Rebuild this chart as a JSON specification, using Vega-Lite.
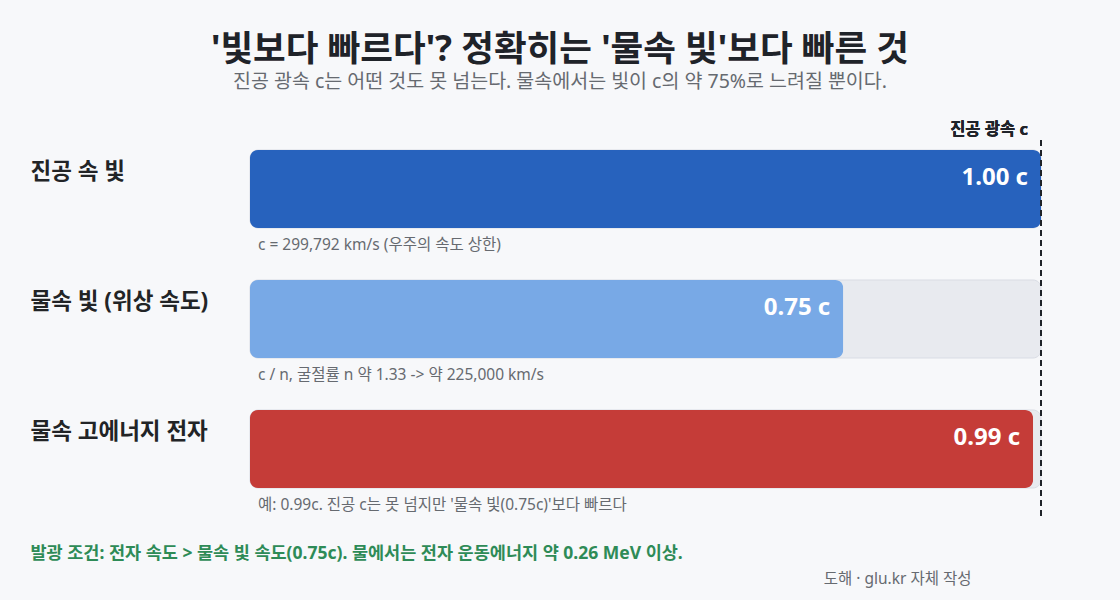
{
  "$schema": "https://vega.github.io/schema/vega-lite/v6.json",
  "width": 1120,
  "height": 490,
  "autosize": {"type": "none"},
  "padding": {"left": 0, "right": 0, "top": 110, "bottom": 0},
  "background": "#f7f8fa",
  "config": {"view": {"stroke": null}, "font": "'Noto Sans', 'Noto Sans CJK KR', sans-serif"},
  "title": {
    "text": "'빛보다 빠르다'? 정확히는 '물속 빛'보다 빠른 것",
    "subtitle": "진공 광속 c는 어떤 것도 못 넘는다. 물속에서는 빛이 c의 약 75%로 느려질 뿐이다.",
    "anchor": "middle",
    "frame": "group",
    "fontSize": 35.5,
    "fontWeight": "bold",
    "color": "#1f2329",
    "subtitleFontSize": 19.5,
    "subtitleColor": "#666a70",
    "subtitlePadding": 4,
    "offset": 19
  },
  "data": {
    "values": [
      {"label": "진공 속 빛", "value": 1.0, "valueLabel": "1.00 c", "caption": "c = 299,792 km/s (우주의 속도 상한)"},
      {"label": "물속 빛 (위상 속도)", "value": 0.75, "valueLabel": "0.75 c", "caption": "c / n, 굴절률 n 약 1.33 -> 약 225,000 km/s"},
      {"label": "물속 고에너지 전자", "value": 0.99, "valueLabel": "0.99 c", "caption": "예: 0.99c. 진공 c는 못 넘지만 '물속 빛(0.75c)'보다 빠르다"}
    ]
  },
  "resolve": {"axis": {"y": "independent", "x": "independent"}},
  "layer": [
    {
      "mark": {"type": "bar", "color": "#e8eaef", "stroke": "#d9dce4", "strokeWidth": 1, "cornerRadius": 8},
      "encoding": {
        "x": {"datum": 1, "type": "quantitative", "scale": {"domain": [0, 1], "range": [250, 1041], "nice": false, "zero": false},
          "axis": {"labels": false, "ticks": false, "domain": false, "grid": false,
            "title": "발광 조건: 전자 속도 > 물속 빛 속도(0.75c). 물에서는 전자 운동에너지 약 0.26 MeV 이상.",
            "titleX": 30, "titleY": -47, "titleAlign": "left", "titleAnchor": "start", "titleBaseline": "middle",
            "titleFontSize": 17.5, "titleFontWeight": "bold", "titleColor": "#2e8b57"}},
        "y": {"field": "label", "type": "nominal", "sort": null,
          "scale": {"range": [14, 404], "paddingInner": 0.4, "paddingOuter": 0.2},
          "axis": {"title": null, "ticks": false, "domain": false, "orient": "left", "offset": -30,
            "labelAlign": "left", "labelPadding": 0, "labelOffset": -17, "labelBaseline": "middle",
            "labelFontSize": 22.5, "labelFontWeight": "bold", "labelColor": "#222426", "labelLimit": 300}}
      }
    },
    {
      "mark": {"type": "bar", "cornerRadius": 8},
      "encoding": {
        "x": {"field": "value", "type": "quantitative", "axis": null},
        "y": {"field": "label", "type": "nominal", "sort": null, "axis": null},
        "color": {"field": "label", "type": "nominal", "legend": null,
          "scale": {"domain": ["진공 속 빛", "물속 빛 (위상 속도)", "물속 고에너지 전자"], "range": ["#2762bd", "#78a9e6", "#c53c38"]}}
      }
    },
    {
      "mark": {"type": "text", "align": "right", "baseline": "middle", "dx": -13, "dy": -11, "fontSize": 24, "fontWeight": "bold", "color": "#ffffff"},
      "encoding": {
        "x": {"field": "value", "type": "quantitative", "axis": null},
        "y": {"field": "label", "type": "nominal", "sort": null, "axis": null},
        "text": {"field": "valueLabel"}
      }
    },
    {
      "mark": {"type": "text", "align": "left", "baseline": "middle", "dx": 8, "dy": 56, "fontSize": 15.5, "color": "#666a70"},
      "encoding": {
        "x": {"datum": 0, "type": "quantitative", "axis": null},
        "y": {"field": "label", "type": "nominal", "sort": null,
          "axis": {"orient": "right", "labels": false, "ticks": false, "domain": false, "grid": false,
            "title": "도해 · glu.kr 자체 작성", "titleAngle": 0, "titleAlign": "right", "titleBaseline": "middle",
            "titleX": -149, "titleY": 468, "titleFontSize": 15.5, "titleFontWeight": "normal", "titleColor": "#666a70"}},
        "text": {"field": "caption"}
      }
    },
    {
      "mark": {"type": "rule", "color": "#1f2329", "strokeWidth": 2, "strokeDash": [6, 4], "yOffset": -10, "y2Offset": 69},
      "encoding": {
        "x": {"datum": 1, "type": "quantitative", "axis": null},
        "y": {"datum": "진공 속 빛", "type": "nominal", "bandPosition": 0, "axis": null},
        "y2": {"datum": "물속 고에너지 전자"}
      }
    },
    {
      "mark": {"type": "text", "align": "right", "baseline": "middle", "dx": -13, "dy": -59, "fontSize": 16.5, "fontWeight": "bold", "color": "#1f2329", "text": "진공 광속 c"},
      "encoding": {
        "x": {"datum": 1, "type": "quantitative", "axis": null},
        "y": {"datum": "진공 속 빛", "type": "nominal", "axis": null}
      }
    }
  ]
}
